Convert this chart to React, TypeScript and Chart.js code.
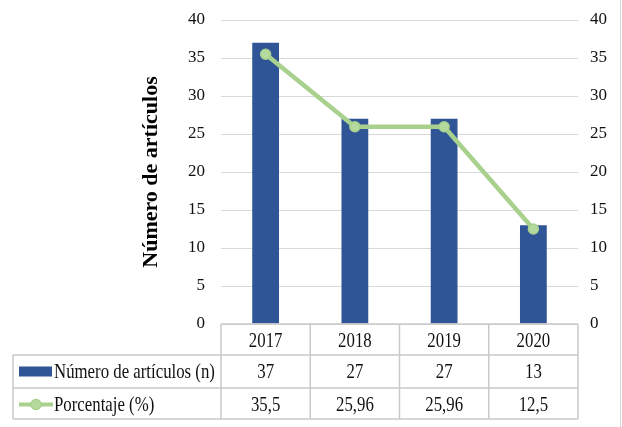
import React, { useEffect, useRef } from "react";
import { Chart, registerables } from "chart.js";

Chart.register(...registerables);

const years = ["2017", "2018", "2019", "2020"];
const articleCounts = [37, 27, 27, 13];
const percentages = [35.5, 25.96, 25.96, 12.5];
const yTickMin = 0;
const yTickMax = 40;
const yTickStep = 5;

const BAR_COLOR = "#2F5597";
const LINE_COLOR = "#A9D18E";
const POINT_FILL = "#B5DA9E";
const GRID_COLOR = "#D9D9D9";
const TABLE_LINE = "#C9C9C9";
const FONT = "'Liberation Serif', 'Times New Roman', serif";

function fmt(v: number) {
  return String(v).replace(".", ",");
}

function drawText(ctx: CanvasRenderingContext2D, text: string, x: number, y: number, align: CanvasTextAlign) {
  ctx.save();
  ctx.translate(x, y);
  ctx.scale(0.8, 1);
  ctx.textAlign = align;
  ctx.textBaseline = "middle";
  ctx.fillText(text, 0, 0);
  ctx.restore();
}

const tablePlugin = {
  id: "dataTable",
  afterDraw(chart: any) {
    const ctx: CanvasRenderingContext2D = chart.ctx;
    const area = chart.chartArea;
    const n = chart.data.labels.length;
    const colW = (area.right - area.left) / n;
    const tableLeft = 13;
    const r0 = area.bottom;
    const r1 = r0 + 31;
    const r2 = r0 + 64;
    const r3 = r0 + 95;
    ctx.save();
    ctx.strokeStyle = TABLE_LINE;
    ctx.lineWidth = 1.5;
    ctx.beginPath();
    ctx.moveTo(area.left, r0);
    ctx.lineTo(area.right, r0);
    for (const y of [r1, r2, r3]) {
      ctx.moveTo(tableLeft, y);
      ctx.lineTo(area.right, y);
    }
    ctx.moveTo(tableLeft, r1);
    ctx.lineTo(tableLeft, r3);
    for (let i = 0; i <= n; i++) {
      const x = area.left + i * colW;
      ctx.moveTo(x, r0);
      ctx.lineTo(x, r3);
    }
    ctx.stroke();

    // frame edge on the right
    ctx.strokeStyle = GRID_COLOR;
    ctx.lineWidth = 1;
    ctx.beginPath();
    ctx.moveTo(620.5, 0);
    ctx.lineTo(620.5, chart.height);
    ctx.stroke();

    ctx.fillStyle = "#111";
    ctx.font = `21px ${FONT}`;
    const xs = chart.scales.x;
    const bar = chart.data.datasets[0];
    const line = chart.data.datasets[1];
    chart.data.labels.forEach((lab: string, i: number) => {
      const cx = xs.getPixelForValue(i);
      drawText(ctx, lab, cx, (r0 + r1) / 2 + 2, "center");
      drawText(ctx, String(bar.data[i]), cx, (r1 + r2) / 2 + 1, "center");
      drawText(ctx, fmt(line.data[i]), cx, (r2 + r3) / 2 + 2, "center");
    });

    // legend keys
    const ky1 = (r1 + r2) / 2;
    const ky2 = (r2 + r3) / 2 + 1;
    ctx.fillStyle = BAR_COLOR;
    ctx.fillRect(19, ky1 - 5, 33, 10);
    ctx.strokeStyle = LINE_COLOR;
    ctx.lineWidth = 4;
    ctx.beginPath();
    ctx.moveTo(19, ky2);
    ctx.lineTo(53, ky2);
    ctx.stroke();
    ctx.fillStyle = POINT_FILL;
    ctx.beginPath();
    ctx.arc(36, ky2, 5, 0, Math.PI * 2);
    ctx.fill();
    ctx.lineWidth = 1.5;
    ctx.stroke();

    ctx.fillStyle = "#111";
    drawText(ctx, bar.label, 54, ky1 + 1, "left");
    drawText(ctx, line.label, 54, ky2 + 1, "left");
    ctx.restore();
  },
};

export default function App() {
  const ref = useRef<HTMLCanvasElement | null>(null);
  useEffect(() => {
    if (!ref.current) return;
    const chart = new Chart(ref.current, {
      type: "bar",
      data: {
        labels: years,
        datasets: [
          {
            type: "bar",
            label: "Número de artículos (n)",
            data: articleCounts,
            backgroundColor: BAR_COLOR,
            barPercentage: 0.3,
            categoryPercentage: 1,
            order: 2,
            yAxisID: "y",
          },
          {
            type: "line",
            label: "Porcentaje (%)",
            data: percentages,
            borderColor: LINE_COLOR,
            borderWidth: 4.5,
            pointRadius: 5,
            pointBackgroundColor: POINT_FILL,
            pointBorderColor: LINE_COLOR,
            pointBorderWidth: 1.5,
            tension: 0,
            order: 1,
            yAxisID: "y",
          },
        ] as any,
      },
      options: {
        animation: false,
        responsive: false,
        layout: { padding: { left: 134, right: 0, top: 20, bottom: 103 } },
        plugins: { legend: { display: false }, tooltip: { enabled: false } },
        scales: {
          x: { display: false },
          y: {
            position: "left",
            min: yTickMin,
            max: yTickMax,
            ticks: { stepSize: yTickStep, padding: 3, color: "#111", font: { family: FONT, size: 17 } },
            grid: { color: GRID_COLOR, lineWidth: 1, drawTicks: true, tickLength: 13, tickColor: "rgba(0,0,0,0)" },
            border: { display: false },
            title: {
              display: true,
              text: "Número de artículos",
              color: "#000",
              font: { family: FONT, size: 22, weight: "bold" },
              padding: { top: 4, bottom: 4 },
            },
            afterFit(scale: any) {
              scale.width = 221 - 134;
            },
          },
          y1: {
            position: "right",
            min: yTickMin,
            max: yTickMax,
            ticks: { stepSize: yTickStep, padding: 3, color: "#111", font: { family: FONT, size: 17 } },
            grid: { display: true, drawOnChartArea: false, drawTicks: true, tickLength: 9, tickColor: "rgba(0,0,0,0)", color: "rgba(0,0,0,0)" },
            border: { display: false },
            afterFit(scale: any) {
              scale.width = 44;
            },
          },
        },
      } as any,
      plugins: [tablePlugin],
    });
    return () => chart.destroy();
  }, []);
  return (
    <div style={{ position: "absolute", left: 0, top: 0, width: 622, height: 427, background: "#fff" }}>
      <canvas ref={ref} width={622} height={427} style={{ width: 622, height: 427 }} />
    </div>
  );
}
